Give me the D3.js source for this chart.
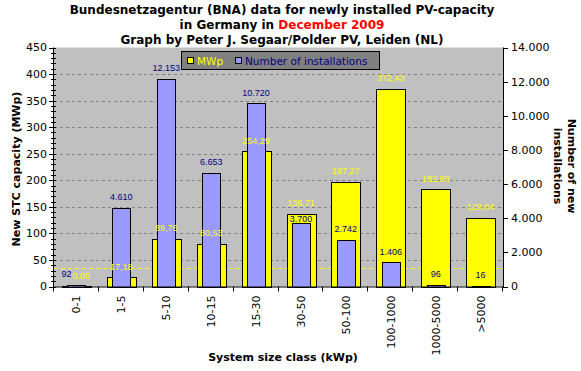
<!DOCTYPE html>
<html><head><meta charset="utf-8">
<script src="https://cdn.jsdelivr.net/npm/d3@7/dist/d3.min.js"></script>
<style>
html,body{margin:0;padding:0;background:#fff;}
svg{display:block;}
</style>
</head><body>
<div id="chart"></div>
<script>
// ---- data ----
const categories = ["0-1","1-5","5-10","10-15","15-30","30-50","50-100","100-1000","1000-5000",">5000"];
const mwp = [0.05, 17.18, 89.76, 80.53, 254.29, 136.71, 197.27, 372.43, 182.88, 129.84];
const installations = [92, 4610, 12153, 6653, 10720, 3700, 2742, 1406, 96, 16];
const leftTicks = [0,50,100,150,200,250,300,350,400,450];
const rightTicks = [0,2000,4000,6000,8000,10000,12000,14000];
const titleLines = ["Bundesnetzagentur (BNA) data for newly installed PV-capacity", "in Germany in ", "December 2009", "Graph by Peter J. Segaar/Polder PV, Leiden (NL)"];

// ---- layout ----
const W = 581, H = 371;
const m = {left: 54, right: 503, top: 47.5, bottom: 286.5};
const font = "DejaVu Sans, Verdana, sans-serif";
const lblFont = "Liberation Sans, Arial, sans-serif";
const locale = d3.formatLocale({decimal: ",", thousands: ".", grouping: [3], currency: ["", ""]});
const fmtInt = locale.format(",d");
const fmtDec = locale.format(".2f");

const svg = d3.select("#chart").append("svg").attr("width", W).attr("height", H);

const x = d3.scaleBand().domain(categories).range([m.left, m.right]).padding(0);
const yL = d3.scaleLinear().domain([0, 450]).range([m.bottom, m.top]);
const yR = d3.scaleLinear().domain([0, 14000]).range([m.bottom, m.top]);

// plot area
svg.append("rect").attr("x", m.left).attr("y", m.top).attr("width", m.right - m.left).attr("height", m.bottom - m.top).attr("fill", "#c0c0c0");

// gridlines
svg.append("g").selectAll("line").data(leftTicks.filter(d => d > 0 && d < 450)).join("line")
  .attr("x1", m.left).attr("x2", m.right).attr("y1", d => Math.round(yL(d)) + 0.5).attr("y2", d => Math.round(yL(d)) + 0.5)
  .attr("stroke", "#808080").attr("stroke-dasharray", "3,3").attr("stroke-width", 1);

// average system size line (kWp) = total MWp / total installations * 1000
const avgKWp = d3.sum(mwp) * 1000 / d3.sum(installations);
svg.append("line").attr("x1", m.left).attr("x2", m.right)
  .attr("y1", Math.round(yL(avgKWp)) + 0.5).attr("y2", Math.round(yL(avgKWp)) + 0.5)
  .attr("stroke", "#ffff00").attr("stroke-dasharray", "4,3");

const bw = x.bandwidth();
const yW = bw * 0.64, bWd = bw * 0.4;
const data = categories.map((c, i) => ({c, m: mwp[i], n: installations[i]}));

// bars
svg.append("g").selectAll("rect").data(data).join("rect")
  .attr("x", d => Math.round(x(d.c) + (bw - yW) / 2) + 0.5)
  .attr("y", d => Math.round(yL(d.m)) + 0.5)
  .attr("width", Math.round(yW))
  .attr("height", d => Math.max(0, Math.round(m.bottom) - Math.round(yL(d.m))))
  .attr("fill", "#ffff00").attr("stroke", "#000").attr("stroke-width", 1);
svg.append("g").selectAll("rect").data(data).join("rect")
  .attr("x", d => Math.round(x(d.c) + (bw - bWd) / 2) + 0.5)
  .attr("y", d => Math.round(yR(d.n)) + 0.5)
  .attr("width", Math.round(bWd))
  .attr("height", d => Math.max(0, Math.round(m.bottom) - Math.round(yR(d.n))))
  .attr("fill", "#9999ff").attr("stroke", "#000").attr("stroke-width", 1);

// axes lines
svg.append("line").attr("x1", m.left - 0.5).attr("x2", m.left - 0.5).attr("y1", m.top).attr("y2", m.bottom + 1).attr("stroke", "#000");
svg.append("line").attr("x1", m.right + 0.5).attr("x2", m.right + 0.5).attr("y1", m.top).attr("y2", m.bottom + 1).attr("stroke", "#000");
svg.append("line").attr("x1", m.left - 1).attr("x2", m.right + 1).attr("y1", m.bottom + 0.5).attr("y2", m.bottom + 0.5).attr("stroke", "#000");

// left axis ticks (major + minor)
const minor = d3.range(0, 451, 10);
svg.append("g").selectAll("line").data(minor).join("line")
  .attr("x1", d => leftTicks.includes(d) ? m.left - 5 : m.left - 3).attr("x2", m.left + 2)
  .attr("y1", d => Math.round(yL(d)) + 0.5).attr("y2", d => Math.round(yL(d)) + 0.5).attr("stroke", "#000");
svg.append("g").selectAll("text").data(leftTicks).join("text")
  .attr("x", m.left - 7).attr("y", d => yL(d)).attr("dy", "0.36em").attr("text-anchor", "end")
  .attr("font-family", font).attr("font-size", 11).text(d => d);

// right axis ticks
svg.append("g").selectAll("line").data(rightTicks).join("line")
  .attr("x1", m.right).attr("x2", m.right + 5)
  .attr("y1", d => Math.round(yR(d)) + 0.5).attr("y2", d => Math.round(yR(d)) + 0.5).attr("stroke", "#000");
svg.append("g").selectAll("text").data(rightTicks).join("text")
  .attr("x", m.right + 8).attr("y", d => yR(d)).attr("dy", "0.36em").attr("text-anchor", "start")
  .attr("font-family", font).attr("font-size", 11).text(d => fmtInt(d));

// category ticks
svg.append("g").selectAll("line").data(categories.map(c => x(c)).concat([m.right])).join("line")
  .attr("x1", d => Math.round(d) - 0.5).attr("x2", d => Math.round(d) - 0.5)
  .attr("y1", m.bottom).attr("y2", m.bottom + 5).attr("stroke", "#000");
svg.append("g").selectAll("text").data(categories).join("text")
  .attr("transform", d => `translate(${x(d) + bw / 2},${m.bottom + 9}) rotate(-90)`)
  .attr("dy", "0.36em").attr("text-anchor", "end")
  .attr("font-family", font).attr("font-size", 11).text(d => d);

// data labels
const labels = data.map(d => {
  const yy = yL(d.m) - 11, yb = yR(d.n) - 11;
  let ydx = 0, bdx = 0, yAnchor = "middle", bAnchor = "middle", yy2 = yy, yb2 = yb;
  if (Math.abs(yy - yb) < 3) { yAnchor = "start"; bAnchor = "end"; ydx = -4; bdx = -5; }
  else if (Math.abs(yy - yb) < 12) { if (yb > yy) yb2 = yy + 16; else yy2 = yb + 16; }
  return {d, yy: yy2, yb: yb2, ydx, bdx, yAnchor, bAnchor};
});
svg.append("g").selectAll("text").data(labels).join("text")
  .attr("x", l => x(l.d.c) + bw / 2 + l.ydx).attr("y", l => l.yy).attr("dy", "0.36em")
  .attr("text-anchor", l => l.yAnchor).attr("font-family", lblFont).attr("font-size", 9)
  .attr("fill", "#ffff00").text(l => fmtDec(l.d.m));
svg.append("g").selectAll("text").data(labels).join("text")
  .attr("x", l => x(l.d.c) + bw / 2 + l.bdx).attr("y", l => l.yb).attr("dy", "0.36em")
  .attr("text-anchor", l => l.bAnchor).attr("font-family", lblFont).attr("font-size", 9)
  .attr("fill", "#000080").text(l => fmtInt(l.d.n));

// legend
const lg = svg.append("g");
lg.append("rect").attr("x", 181.5).attr("y", 51.5).attr("width", 198).attr("height", 18)
  .attr("fill", "#808080").attr("stroke", "#000");
lg.append("rect").attr("x", 187.5).attr("y", 57.5).attr("width", 6).attr("height", 6).attr("fill", "#ffff00").attr("stroke", "#000");
lg.append("text").attr("x", 197).attr("y", 61).attr("dy", "0.36em").attr("font-family", font).attr("font-size", 10.5).attr("fill", "#ffff00").text("MWp");
lg.append("rect").attr("x", 235.5).attr("y", 57.5).attr("width", 6).attr("height", 6).attr("fill", "#9999ff").attr("stroke", "#000");
lg.append("text").attr("x", 245).attr("y", 61).attr("dy", "0.36em").attr("font-family", font).attr("font-size", 10.5).attr("fill", "#000080").text("Number of installations");

// titles
const tg = svg.append("g").attr("font-family", font).attr("font-weight", "bold").attr("font-size", 12).attr("text-anchor", "middle");
tg.append("text").attr("x", 282).attr("y", 14).text(titleLines[0]);
const t2 = tg.append("text").attr("x", 282).attr("y", 29);
t2.append("tspan").text(titleLines[1]);
t2.append("tspan").attr("fill", "#ff0000").text(titleLines[2]);
tg.append("text").attr("x", 282).attr("y", 44).text(titleLines[3]);

// axis titles
svg.append("text").attr("x", 283).attr("y", 361).attr("text-anchor", "middle")
  .attr("font-family", font).attr("font-weight", "bold").attr("font-size", 11).text("System size class (kWp)");
svg.append("text").attr("transform", "translate(16,169) rotate(-90)").attr("dy", "0.36em").attr("text-anchor", "middle")
  .attr("font-family", font).attr("font-weight", "bold").attr("font-size", 11).text("New STC capacity (MWp)");
const rt = svg.append("g").attr("font-family", font).attr("font-weight", "bold").attr("font-size", 11).attr("text-anchor", "middle");
rt.append("text").attr("transform", "translate(572,166) rotate(90)").attr("dy", "0.36em").text("Number of new");
rt.append("text").attr("transform", "translate(558,166) rotate(90)").attr("dy", "0.36em").text("installations");
</script>
</body></html>
